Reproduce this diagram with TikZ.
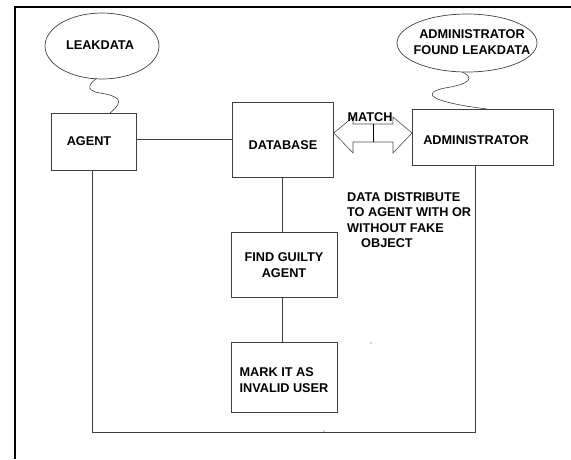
\documentclass[tikz,border=0pt]{standalone}
\usepackage{fontspec}
\setmainfont{Liberation Sans}
\begin{document}
\begin{tikzpicture}[x=1pt,y=-1pt,
  lbl/.style={font=\fontsize{12.7}{15.5}\selectfont\bfseries, inner sep=0pt},
  boxn/.style={draw=black!75, line width=0.8pt, rectangle, inner sep=0pt, anchor=north west},
  bub/.style={draw=black!75, line width=0.7pt},
  conn/.style={draw=black!75, line width=0.8pt},
  wig/.style={draw=black!75, line width=0.6pt}]
\useasboundingbox (0,0) rectangle (571,459);
% frame (top and left only)
\draw[line width=2.6pt, black] (14,7) -- (571,7);
\draw[line width=2.6pt, black] (15,6) -- (15,459);
% bubbles
\draw[bub] (102,46) ellipse (57 and 33);
\node[lbl] (leak) at (100,45) {LEAKDATA};
\coordinate (leakb) at (97,78);
\draw[bub] (467,43) ellipse (70 and 29);
\node[lbl, align=center] (adminfound) at (472,42) {ADMINISTRATOR\\FOUND LEAKDATA};
\coordinate (adminb) at (462,72);
% boxes
\node[boxn, minimum width=85, minimum height=57] (agent) at (51,113) {};
\node[lbl] at (89,141) {AGENT};
\node[boxn, minimum width=101, minimum height=75] (db) at (232,102) {};
\node[lbl] at (283,145) {DATABASE};
\node[boxn, minimum width=141, minimum height=56] (admin) at (412,109) {};
\node[lbl] at (476,140) {ADMINISTRATOR};
\node[boxn, minimum width=106, minimum height=65] (guilty) at (231,232) {};
\node[lbl, align=center] at (284,265) {FIND GUILTY\\AGENT};
\node[boxn, minimum width=106, minimum height=70] (mark) at (231,342) {};
\node[lbl, align=left] at (284,380) {MARK IT AS\\INVALID USER};
% squiggles
\coordinate (agenttop) at (110,113);
\draw[wig] (leakb) .. controls (92,82) and (82,90) .. (100,93)
  .. controls (118,96) and (126,100) .. (agenttop);
\coordinate (admintop) at (487,109);
\draw[wig] (adminb) .. controls (475,78) and (470,84) .. (445,88)
  .. controls (420,93) and (430,102) .. (admintop);
% connectors
\draw[conn] (agent.east |- 0,139) -- (db.west |- 0,139);
\draw[conn] (db.south -| 282,0) -- (guilty.north -| 282,0);
\draw[conn] (guilty.south -| 282,0) -- (mark.north -| 282,0);
\coordinate (bl) at (92,432);
\coordinate (br) at (475,432);
\draw[conn] (agent.south -| 92,0) -- (bl) -- (br) -- (admin.south -| 475,0);
% double arrow MATCH
\draw[draw=black!70, line width=0.6pt] (db.east |- 0,133) -- (353,117) -- (353,124) -- (393,124) -- (393,117)
  -- (admin.west |- 0,133) -- (393,153) -- (393,142) -- (353,142) -- (353,153) -- cycle;
\draw[black, line width=0.8pt] (373,124) -- (373,142);
\node[lbl] (match) at (370,117) {MATCH};
% annotation
\node[lbl, align=left, anchor=north west] (note) at (347,192) {DATA DISTRIBUTE\\TO AGENT WITH OR\\WITHOUT FAKE\\\hspace*{14pt}OBJECT};
% stray dots
\fill[black!70] (371,343) circle (0.7);
\fill[black!70] (324,431) circle (0.7);
\end{tikzpicture}
\end{document}
